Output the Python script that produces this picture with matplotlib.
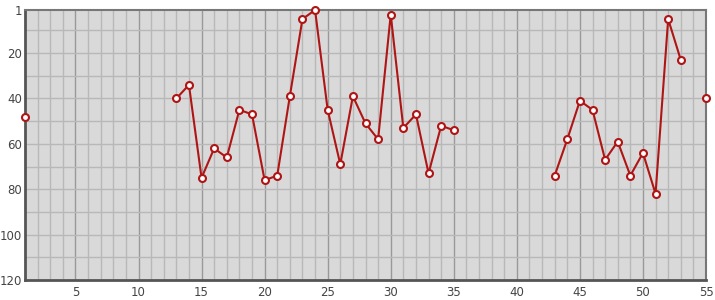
import matplotlib
matplotlib.use("Agg")
import matplotlib.pyplot as plt
import numpy as np

# rank per day (nan = no value)
days = list(range(1, 56))
ranks = {
    1: 48,
    13: 40, 14: 34, 15: 75, 16: 62, 17: 66, 18: 45, 19: 47, 20: 76, 21: 74,
    22: 39, 23: 5, 24: 1, 25: 45, 26: 69, 27: 39, 28: 51, 29: 58, 30: 3,
    31: 53, 32: 47, 33: 73, 34: 52, 35: 54,
    43: 74, 44: 58, 45: 41, 46: 45, 47: 67, 48: 59, 49: 74, 50: 64, 51: 82,
    52: 5, 53: 23,
    55: 40,
}
values = [ranks.get(d, np.nan) for d in days]

x_ticks = [5, 10, 15, 20, 25, 30, 35, 40, 45, 50, 55]
y_ticks = [1, 20, 40, 60, 80, 100, 120]

fig = plt.figure(figsize=(7.15, 3.0), dpi=100)
ax = fig.add_axes([25 / 715, 20 / 300, 681 / 715, 270 / 300])
ax.set_facecolor("#d9d9d9")

# grid: every day / every 10 ranks, darker every 5 days
for d in range(2, 55):
    c = "#999999" if d % 5 == 0 else "#b8b8b8"
    ax.axvline(d, color=c, lw=1, zorder=1)
for r in range(10, 120, 10):
    ax.axhline(r, color="#b8b8b8", lw=1, zorder=1)

ax.plot(days, values, color="#b01515", lw=1.5, marker="o", ms=5,
        mfc="white", mec="#b01515", mew=1.5, zorder=3, clip_on=False)

ax.set_xlim(1, 55)
ax.set_ylim(120, 1)
ax.set_xticks(x_ticks)
ax.set_yticks(y_ticks)
ax.tick_params(axis="x", length=0, labelsize=8.5, labelcolor="#444444", pad=4)
ax.tick_params(axis="y", length=0, labelsize=8.5, labelcolor="#444444", pad=2)

for s in ["left", "bottom"]:
    ax.spines[s].set_linewidth(2)
    ax.spines[s].set_color("#555555")
for s in ["top", "right"]:
    ax.spines[s].set_linewidth(1.5)
    ax.spines[s].set_color("#777777")

fig.savefig("out.png", dpi=100)
